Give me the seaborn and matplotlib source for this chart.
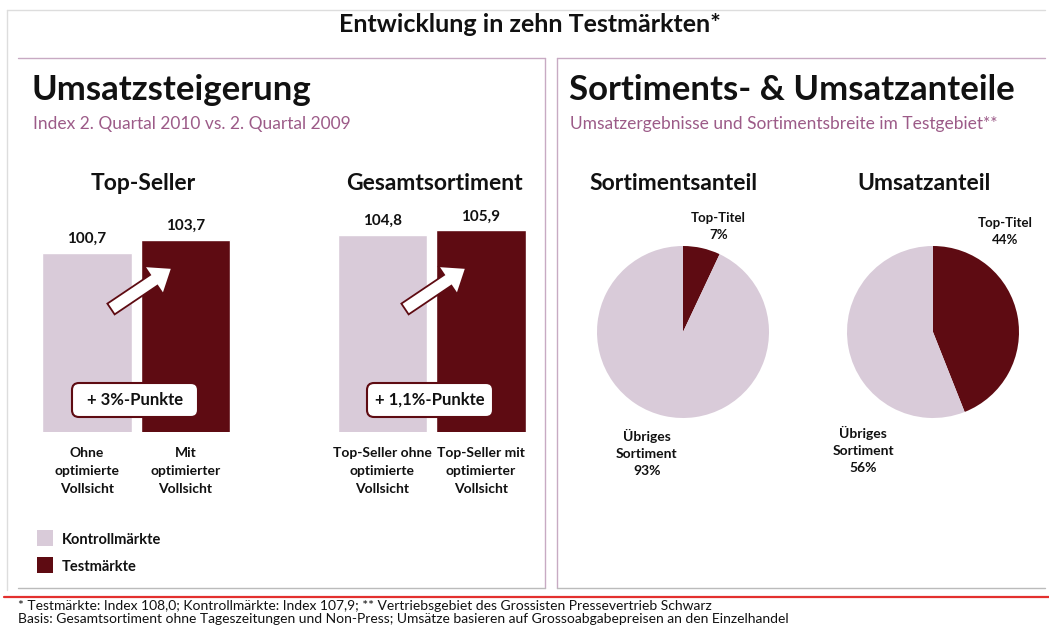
import numpy as np
import pandas as pd
import matplotlib
matplotlib.use("Agg")
import matplotlib.pyplot as plt
import matplotlib.transforms as mtransforms
from matplotlib.patches import FancyArrow, FancyBboxPatch, Rectangle
from matplotlib.lines import Line2D
import seaborn as sns

# ------------------------------------------------------------------
# Data
# ------------------------------------------------------------------
groups = ["Kontrollmärkte", "Testmärkte"]
topseller_labels = ["Ohne\noptimierte\nVollsicht", "Mit\noptimierter\nVollsicht"]
topseller_values = [100.7, 103.7]
gesamt_labels = ["Top-Seller ohne\noptimierte\nVollsicht", "Top-Seller mit\noptimierter\nVollsicht"]
gesamt_values = [104.8, 105.9]
diff_labels = ["+ 3%-Punkte", "+ 1,1%-Punkte"]

pie_labels = ["Top-Titel", "Übriges\nSortiment"]
sortiment_share = [7, 93]
umsatz_share = [44, 56]

# ------------------------------------------------------------------
# Style
# ------------------------------------------------------------------
W, H = 1049, 630
LIGHT = "#d9cbd9"
DARK = "#5e0b12"
FRAME = "#c8aac3"
SUB = "#9c5b88"
RED = "#e3302e"

sns.set_theme(style="white")
plt.rcParams["font.family"] = ["Lato", "DejaVu Sans"]
plt.rcParams["text.color"] = "#111111"

fig = plt.figure(figsize=(W / 100, H / 100), dpi=100)
fig.patch.set_facecolor("white")

# pixel coordinates, origin top-left
px = mtransforms.Affine2D().scale(1 / W, -1 / H).translate(0, 1) + fig.transFigure


def ax_px(left, top, right, bottom):
    return fig.add_axes([left / W, 1 - bottom / H, (right - left) / W, (bottom - top) / H])


def line(xs, ys, color=FRAME, lw=1.0):
    fig.add_artist(Line2D(xs, ys, transform=px, color=color, lw=lw))


# frames
line([7, 1045], [10, 10], color="#dddddd")
line([7, 7], [10, 590], color="#dddddd")
line([18, 545], [58, 58])
line([545, 545], [58, 588])
line([557, 1045], [58, 58])
line([557, 557], [58, 588])
line([18, 545], [588, 588], color="#bbbbbb")
line([557, 1045], [588, 588], color="#bbbbbb")
line([4, 1049], [597, 597], color=RED, lw=1.6)

# titles
fig.text(530, 25, "Entwicklung in zehn Testmärkten*", transform=px, ha="center", va="center",
         fontsize=18, fontweight="bold")
fig.text(31, 90, "Umsatzsteigerung", transform=px, ha="left", va="center", fontsize=25, fontweight="bold")
fig.text(33, 124, "Index 2. Quartal 2010 vs. 2. Quartal 2009", transform=px, ha="left", va="center",
         fontsize=12.5, color=SUB)
fig.text(569, 90, "Sortiments- & Umsatzanteile", transform=px, ha="left", va="center", fontsize=25,
         fontweight="bold")
fig.text(570, 124, "Umsatzergebnisse und Sortimentsbreite im Testgebiet**", transform=px, ha="left",
         va="center", fontsize=12.5, color=SUB)

# footnotes
fig.text(18, 606, "* Testmärkte: Index 108,0; Kontrollmärkte: Index 107,9; ** Vertriebsgebiet des Grossisten "
         "Pressevertrieb Schwarz", transform=px, ha="left", va="center", fontsize=10)
fig.text(18, 619, "Basis: Gesamtsortiment ohne Tageszeitungen und Non-Press; Umsätze basieren auf "
         "Grossoabgabepreisen an den Einzelhandel", transform=px, ha="left", va="center", fontsize=10)

# ------------------------------------------------------------------
# Bar groups
# ------------------------------------------------------------------
def bar_group(left, right, title, title_x, labels, values, diff, arrow_tail, arrow_tip, box_x):
    ax = ax_px(left, 200, right, 432)
    df = pd.DataFrame({"label": labels, "value": values, "group": groups})
    sns.barplot(data=df, x="label", y="value", hue="group", palette=[LIGHT, DARK],
                dodge=False, width=0.91, legend=False, ax=ax, saturation=1)
    ax.set_ylim(60, 112.8)
    ax.set_xlim(-0.5, 1.5)
    for c in ax.containers:
        ax.bar_label(c, fmt=lambda v: f"{v:.1f}".replace(".", ","), padding=5,
                     fontsize=11, fontweight="bold")
    sns.despine(ax=ax, left=True, bottom=True)
    ax.set_yticks([])
    ax.set_xticks([])
    ax.set_xlabel("")
    ax.set_ylabel("")
    # category labels under the bars (bold, three lines)
    for i, lab in enumerate(labels):
        ax.annotate(lab, xy=(i, 0), xycoords=ax.get_xaxis_transform(), xytext=(0, -11),
                    textcoords="offset points", ha="center", va="top", fontsize=10,
                    fontweight="bold", linespacing=1.6)
    ax.patch.set_alpha(0)

    fig.text(title_x, 184, title, transform=px, ha="center", va="center", fontsize=16.5, fontweight="bold")

    fig.add_artist(FancyArrow(arrow_tail[0], arrow_tail[1], arrow_tip[0] - arrow_tail[0],
                              arrow_tip[1] - arrow_tail[1], width=13, head_width=34, head_length=22,
                              length_includes_head=True, transform=px, facecolor="white",
                              edgecolor=DARK, lw=1.3))
    fig.add_artist(FancyBboxPatch((box_x, 383), 126, 34, boxstyle="round,pad=0,rounding_size=7",
                                  transform=px, facecolor="white", edgecolor=DARK, lw=1.5))
    fig.text(box_x + 63, 400, diff, transform=px, ha="center", va="center", fontsize=12,
             fontweight="bold")


bar_group(37.75, 234.75, "Top-Seller", 143, topseller_labels, topseller_values, diff_labels[0],
          (111, 309), (172, 268), 72)
bar_group(333.25, 530.25, "Gesamtsortiment", 434, gesamt_labels, gesamt_values, diff_labels[1],
          (405, 309), (466, 268), 367)

# legend
for (y, col, lab) in [(530, LIGHT, groups[0]), (557, DARK, groups[1])]:
    fig.add_artist(Rectangle((37, y), 16, 16, transform=px, facecolor=col, edgecolor="none"))
    fig.text(62, y + 10, lab, transform=px, ha="left", va="center", fontsize=10.5, fontweight="bold")

# ------------------------------------------------------------------
# Pies
# ------------------------------------------------------------------
def pie(cx, cy, r, title, title_x, shares, top_pos, rest_pos):
    ax = ax_px(cx - r, cy - r, cx + r, cy + r)
    ax.pie(shares, colors=[DARK, LIGHT], startangle=90, counterclock=False, radius=1,
           wedgeprops=dict(linewidth=0))
    ax.set_xlim(-1, 1)
    ax.set_ylim(-1, 1)
    ax.set_aspect("equal")
    ax.axis("off")
    ax.text(top_pos[0], top_pos[1], f"{pie_labels[0]}\n{shares[0]}%", ha="center", va="center",
            fontsize=9.5, fontweight="bold", linespacing=1.5)
    ax.text(rest_pos[0], rest_pos[1], f"{pie_labels[1]}\n{shares[1]}%", ha="center", va="center",
            fontsize=10, fontweight="bold", linespacing=1.5)
    fig.text(title_x, 184, title, transform=px, ha="center", va="center", fontsize=16.5, fontweight="bold")


pie(683, 332, 86, "Sortimentsanteil", 673, sortiment_share, (0.41, 1.23), (-0.42, -1.41))
pie(933, 332, 86, "Umsatzanteil", 924, umsatz_share, (0.84, 1.17), (-0.81, -1.37))

fig.savefig("out.png", dpi=100, facecolor="white")
